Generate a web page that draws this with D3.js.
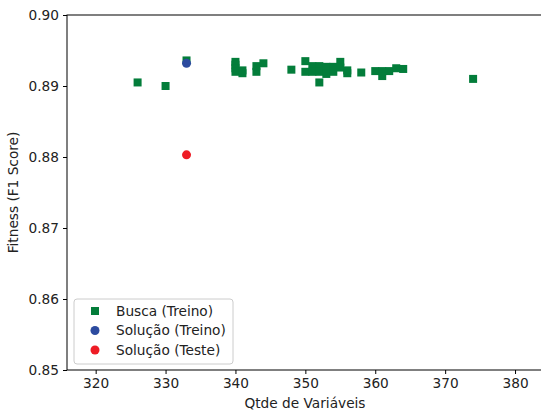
<!DOCTYPE html>
<html>
<head>
<meta charset="utf-8">
<script src="https://cdn.jsdelivr.net/npm/d3@7"></script>
<style>
  body { margin: 0; background: #fff; }
  svg text { font-family: "DejaVu Sans", sans-serif; fill: #222; }
</style>
</head>
<body>
<div id="chart"></div>
<script>
// busca (treino): qtde de variaveis x fitness
const buscaX = [326, 330, 333, 340, 340, 340, 340, 341, 341, 343, 343, 344, 348,
  350, 350, 351, 351, 352, 352, 352, 353, 353, 354, 354, 355, 355, 356, 356,
  358, 360, 361, 361, 362, 363, 364, 374];
const buscaY = [0.8905, 0.8900, 0.8936, 0.8934, 0.8930, 0.8925, 0.8920, 0.8918, 0.8922, 0.8920, 0.8928, 0.8932, 0.8923,
  0.8935, 0.8920, 0.8928, 0.8920, 0.8928, 0.8905, 0.8920, 0.8927, 0.8917, 0.8920, 0.8927, 0.8934, 0.8926, 0.8922, 0.8918,
  0.8919, 0.8921, 0.8921, 0.8914, 0.8921, 0.8925, 0.8924, 0.8910];
const solTreino = [{x: 333, y: 0.8932}];
const solTeste = [{x: 333, y: 0.8803}];
const xTicks = [320, 330, 340, 350, 360, 370, 380];
const yTicks = [0.85, 0.86, 0.87, 0.88, 0.89, 0.90];
const legendLabels = ["Busca (Treino)", "Solução (Treino)", "Solução (Teste)"];

const width = 541, height = 412;
const margin = {top: 15, right: -2, bottom: 42, left: 67};
const colors = {busca: "#037d3a", treino: "#2c4b9f", teste: "#ee1c25"};
const fs = 13.7;

const svg = d3.select("#chart").append("svg")
  .attr("width", width).attr("height", height);

const x = d3.scaleLinear().domain([315.9, 384]).range([margin.left, width - margin.right]);
const y = d3.scaleLinear().domain([0.85, 0.90]).range([height - margin.bottom, margin.top]);

// pontos
const busca = buscaX.map((v, i) => ({x: v, y: buscaY[i]}));
const sq = 8;
svg.append("g").selectAll("rect").data(busca).join("rect")
  .attr("x", d => x(d.x) - sq / 2)
  .attr("y", d => y(d.y) - sq / 2)
  .attr("width", sq).attr("height", sq)
  .attr("fill", colors.busca);

svg.append("g").selectAll("circle").data(solTreino).join("circle")
  .attr("cx", d => x(d.x)).attr("cy", d => y(d.y)).attr("r", 4.5)
  .attr("fill", colors.treino);

svg.append("g").selectAll("circle").data(solTeste).join("circle")
  .attr("cx", d => x(d.x)).attr("cy", d => y(d.y)).attr("r", 4.5)
  .attr("fill", colors.teste);

// eixos
const xAxis = svg.append("g")
  .attr("transform", `translate(0,${height - margin.bottom})`)
  .call(d3.axisBottom(x).tickValues(xTicks).tickSize(4).tickPadding(4).tickFormat(d3.format("d")));
const yAxis = svg.append("g")
  .attr("transform", `translate(${margin.left},0)`)
  .call(d3.axisLeft(y).tickValues(yTicks).tickSize(4).tickPadding(4).tickFormat(d3.format(".2f")));
[xAxis, yAxis].forEach(g => {
  g.select(".domain").remove();
  g.selectAll("text").attr("font-size", fs).attr("fill", "#222")
    .style("font-family", "DejaVu Sans, sans-serif");
  g.selectAll("line").attr("stroke", "#000");
});

// moldura
svg.append("rect")
  .attr("x", margin.left).attr("y", margin.top)
  .attr("width", width - margin.right - margin.left)
  .attr("height", height - margin.bottom - margin.top)
  .attr("fill", "none").attr("stroke", "#000").attr("stroke-width", 1);

svg.append("text")
  .attr("x", (margin.left + width) / 2 + 1).attr("y", 408)
  .attr("text-anchor", "middle").attr("font-size", fs)
  .text("Qtde de Variáveis");

svg.append("text")
  .attr("transform", `translate(18,${(margin.top + height - margin.bottom) / 2}) rotate(-90)`)
  .attr("text-anchor", "middle").attr("font-size", fs)
  .text("Fitness (F1 Score)");

// legenda
const leg = svg.append("g").attr("transform", "translate(74,299)");
leg.append("rect").attr("width", 159).attr("height", 65).attr("rx", 3)
  .attr("fill", "#fff").attr("fill-opacity", 0.8).attr("stroke", "#ccc");
const legColors = [colors.busca, colors.treino, colors.teste];
legendLabels.forEach((lab, i) => {
  const cy = 12 + i * 19.5;
  if (i === 0) {
    leg.append("rect").attr("x", 21 - sq / 2).attr("y", cy - sq / 2)
      .attr("width", sq).attr("height", sq).attr("fill", legColors[i]);
  } else {
    leg.append("circle").attr("cx", 21).attr("cy", cy).attr("r", 4.5).attr("fill", legColors[i]);
  }
  leg.append("text").attr("x", 42).attr("y", cy + 4.5).attr("font-size", fs).text(lab);
});
</script>
</body>
</html>
